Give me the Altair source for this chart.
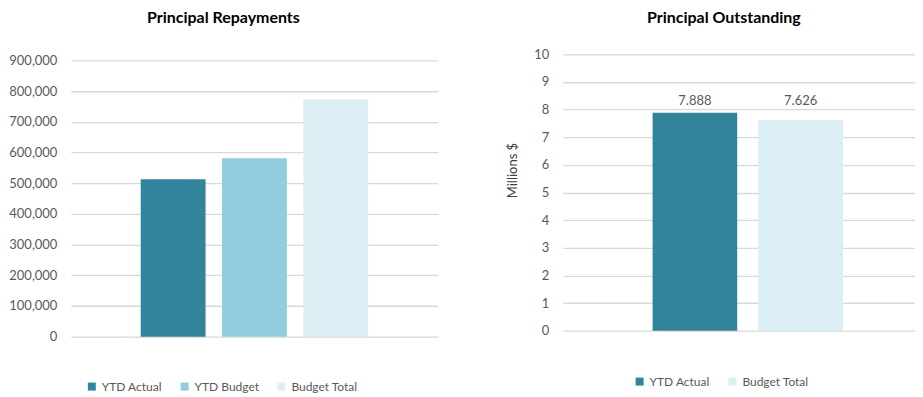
import altair as alt
import pandas as pd

rep_series = ["YTD Actual", "YTD Budget", "Budget Total"]
rep_values = [513000, 581000, 773000]
rep_ticks = [0, 100000, 200000, 300000, 400000, 500000, 600000, 700000, 800000, 900000]

out_series = ["YTD Actual", "Budget Total"]
out_values = [7.888, 7.626]
out_ticks = [0, 1, 2, 3, 4, 5, 6, 7, 8, 9, 10]

colors = {"YTD Actual": "#31849B", "YTD Budget": "#93CDDD", "Budget Total": "#DAEEF3"}

FONT = "Lato"
LABEL = "#595959"
GRID = "#D9D9D9"

df1 = pd.DataFrame({"series": rep_series, "value": rep_values})
df2 = pd.DataFrame({"series": out_series, "value": out_values})


def legend(x, y):
    return alt.Legend(
        title=None, orient="none", legendX=x, legendY=y, direction="horizontal",
        symbolType="square", symbolSize=64, symbolStrokeWidth=0,
        labelFontSize=12, labelColor=LABEL, labelFont=FONT, labelOffset=4,
        columnPadding=16,
    )


left = alt.Chart(df1, title=alt.TitleParams(
    "Principal Repayments", fontSize=16, fontWeight="bold", font=FONT,
    color="#000000", offset=28, anchor="middle", frame="bounds")).mark_bar().encode(
    x=alt.X("series:N", sort=rep_series, axis=None,
            scale=alt.Scale(paddingInner=0.2025, paddingOuter=0.859)),
    y=alt.Y("value:Q", scale=alt.Scale(domain=[0, 919495], nice=False),
            axis=alt.Axis(values=rep_ticks, format=",d", title=None, grid=True,
                          domain=False, ticks=False, labelPadding=14,
                          labelFontSize=13, labelColor=LABEL, labelFont=FONT,
                          gridColor=GRID, gridWidth=1.3)),
    color=alt.Color("series:N",
                    scale=alt.Scale(domain=rep_series, range=[colors[s] for s in rep_series]),
                    legend=legend(15, 327)),
).properties(width=368, height=283)

out_axis = alt.Axis(values=out_ticks, title="Millions $", grid=True,
                    domain=False, ticks=False, labelPadding=14,
                    labelFontSize=13, labelColor=LABEL, labelFont=FONT,
                    titleFontSize=13, titleFont=FONT, titleColor="#404040",
                    titleFontWeight="normal", titlePadding=14, titleY=116,
                    gridColor=GRID, gridWidth=1.3)
out_scale = alt.Scale(domain=[0, 10], nice=False)

base2 = alt.Chart(df2, title=alt.TitleParams(
    "Principal Outstanding", fontSize=16, fontWeight="bold", font=FONT,
    color="#000000", offset=22, anchor="middle", frame="bounds", dx=13)).encode(
    x=alt.X("series:N", sort=out_series, axis=None,
            scale=alt.Scale(paddingInner=0.2, paddingOuter=0.765, align=0.555)),
)
bars2 = base2.mark_bar().encode(
    y=alt.Y("value:Q", scale=out_scale, axis=out_axis),
    color=alt.Color("series:N",
                    scale=alt.Scale(domain=out_series, range=[colors[s] for s in out_series]),
                    legend=legend(71, 322)),
)
labels2 = base2.transform_joinaggregate(top="max(value)").mark_text(
    baseline="bottom", dy=-5, fontSize=13, font=FONT, color=LABEL).encode(
    y=alt.Y("top:Q", scale=out_scale, axis=out_axis),
    text=alt.Text("value:Q", format=".3f"))
right = alt.layer(bars2, labels2).properties(width=353, height=277)

chart = alt.hconcat(left, right, spacing=68).resolve_scale(
    color="independent", x="independent", y="independent").configure_view(
    stroke=None).properties(padding={"top": 2, "left": 0, "right": 0, "bottom": 0})

chart.save("out.html", embed_options={"renderer": "svg", "actions": False})
